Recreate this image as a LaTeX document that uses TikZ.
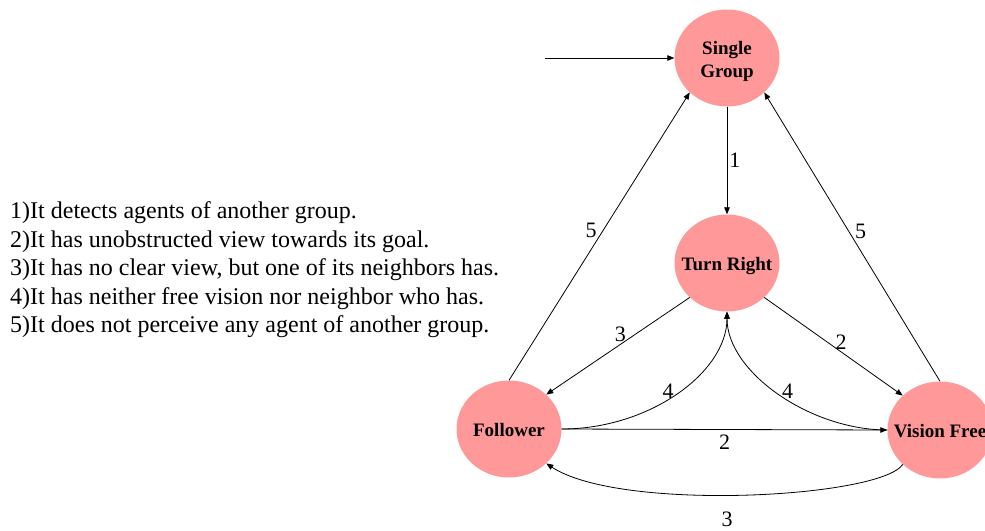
\documentclass[tikz,border=0pt]{standalone}
\usepackage{fontspec}
\setmainfont{Liberation Serif}
\usetikzlibrary{shapes.geometric,arrows.meta}
\definecolor{statefill}{RGB}{255,153,153}
\begin{document}
\begin{tikzpicture}[x=1pt,y=-1pt,
  state/.style={ellipse,fill=statefill,minimum width=105pt,minimum height=97pt,inner sep=0pt},
  stext/.style={align=center,font=\fontsize{19}{23}\selectfont\bfseries,inner sep=0pt},
  edge/.style={-{Triangle[length=7pt,width=5.5pt]},line width=0.8pt},
  lab/.style={font=\fontsize{22}{24}\selectfont,inner sep=1pt}]
\useasboundingbox (0,0) rectangle (985,530);
\node[state] (sg) at (727,58) {};
\node[state] (tr) at (727,263) {};
\node[state] (fo) at (509,429) {};
\node[state] (vf) at (940,430) {};
\node[stext] (sgt) at ([yshift=-3pt]sg.center) {Single\\Group};
\node[stext] (trt) at ([yshift=-3pt]tr.center) {Turn Right};
\node[stext] (fot) at ([yshift=-1pt]fo.center) {Follower};
\node[stext] (vft) at ([yshift=-1pt]vf.center) {Vision Free};
\coordinate (init) at (545,58);
\node[anchor=west,align=left,font=\fontsize{24}{28.5}\selectfont,inner sep=0pt] (legend) at (10,270) {1)It detects agents of another group.\\2)It has unobstructed view towards its goal.\\3)It has no clear view, but one of its neighbors has.\\4)It has neither free vision nor neighbor who has.\\5)It does not perceive any agent of another group.};
\draw[edge] (init) -- (sg);
\draw[edge] (sg) -- node[lab,right=1pt] {1} (tr);
\draw[edge] (fo.north) -- node[lab,pos=0.52,left=5pt] {5} (sg.south west);
\draw[edge] (vf.north) -- node[lab,pos=0.52,right=5pt] {5} (sg.south east);
\draw[edge] (tr.south west) -- node[lab,pos=0.45,above left=-2pt] {3} (fo.north east);
\draw[edge] (tr.south east) -- node[lab,pos=0.52,above right=-2pt] {2} (vf.north west);
\draw[edge] (fo.east) .. controls (650,429) and (727,372) .. node[lab,pos=0.47,above left=-3pt] {4} (tr.south);
\draw[edge] (vf.west) .. controls (810,430) and (727,372) .. node[lab,pos=0.47,above right=-3pt] {4} (tr.south);
\draw[edge] (fo.east) -- node[lab,below=4pt] {2} (vf.west);
\draw[edge] (vf.south west) .. controls (880,498) and (620,512) .. (fo.south east);
\node[lab] (l3) at (727,519) {3};
\end{tikzpicture}
\end{document}
